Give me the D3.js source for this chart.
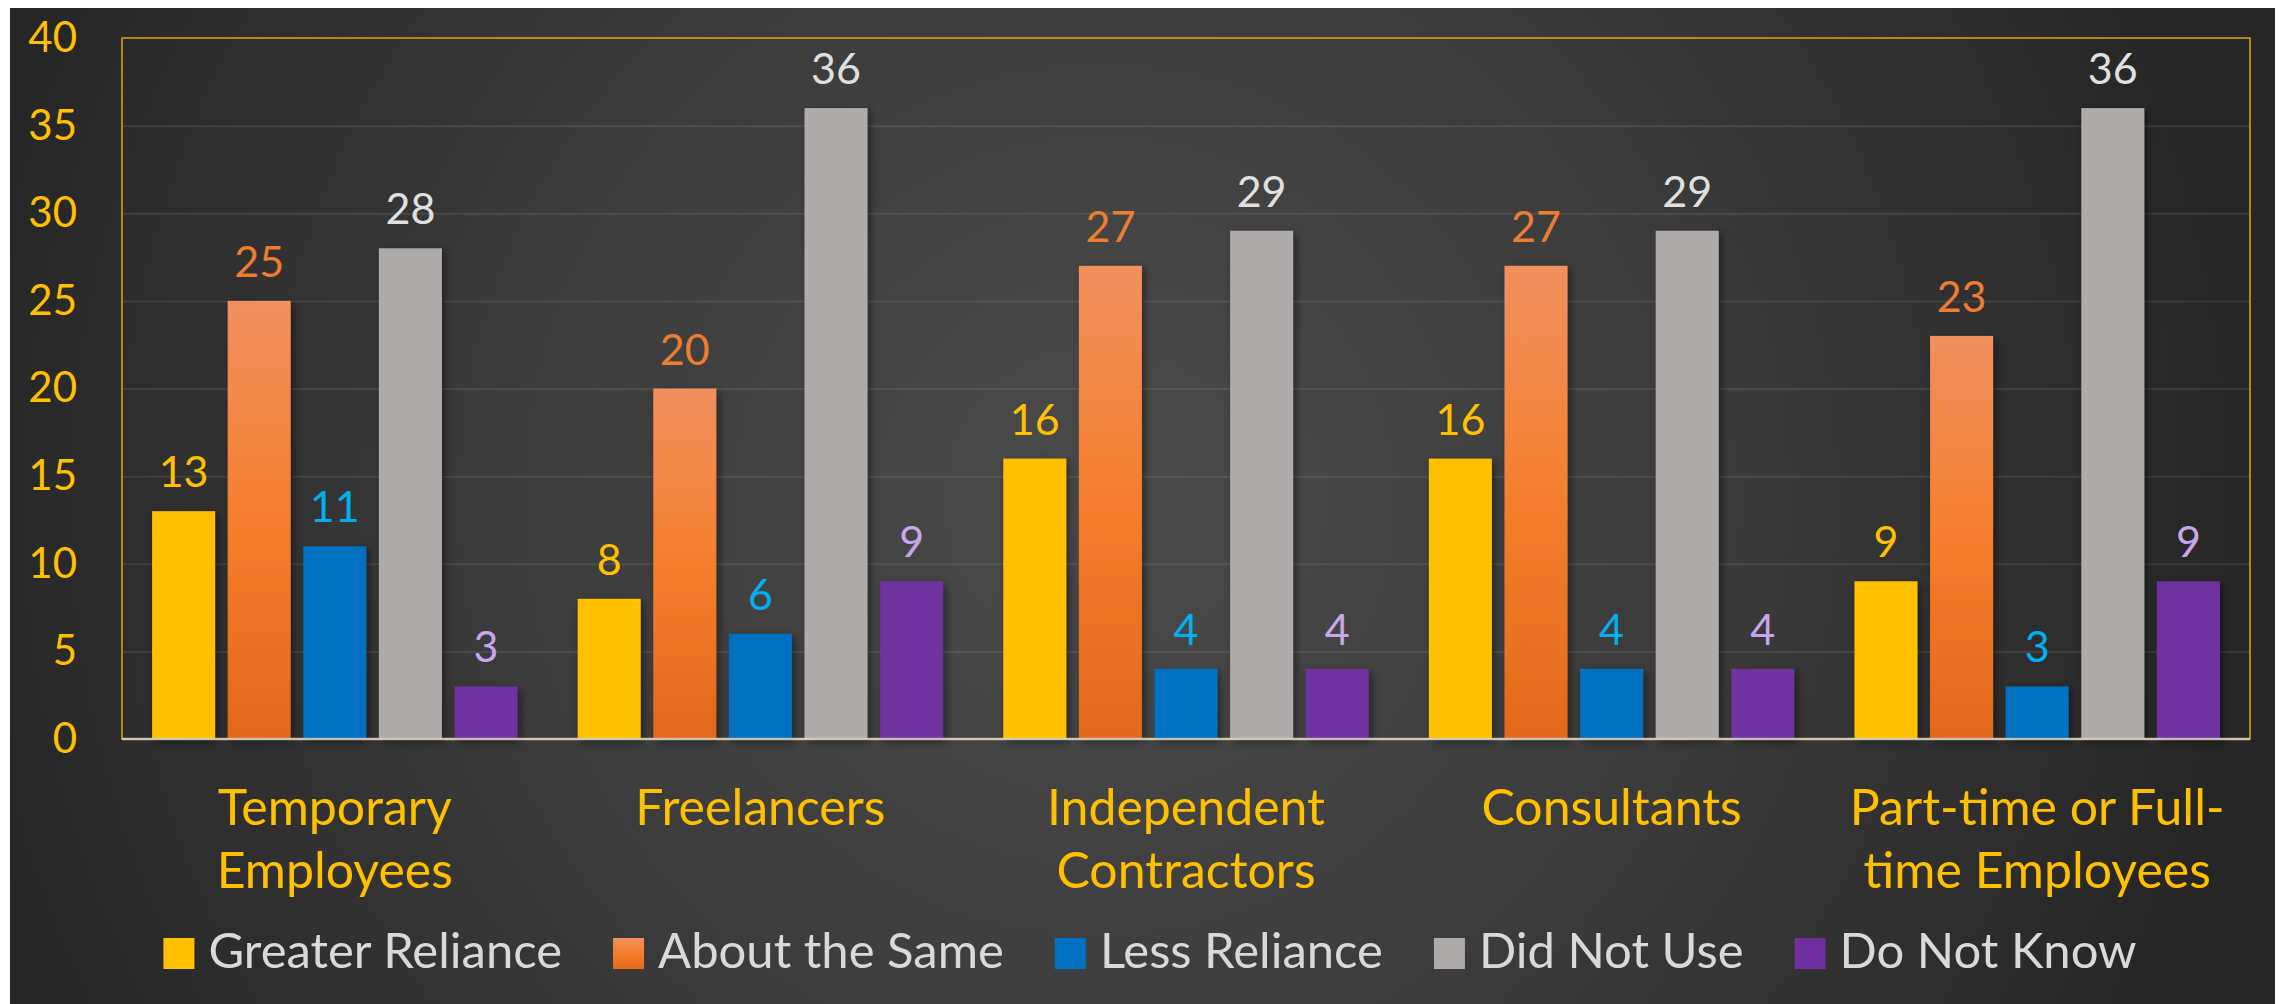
<!DOCTYPE html>
<html>
<head>
<meta charset="utf-8">
<style>
body { margin: 0; background: #fff; }
svg { display: block; }
text { font-family: Lato, "Open Sans", sans-serif; }
</style>
</head>
<body>
<svg id="chart" width="2280" height="1004"></svg>
<script src="https://d3js.org/d3.v7.min.js"></script>
<script>

// chart data
const categories = ["Temporary Employees", "Freelancers", "Independent Contractors", "Consultants", "Part-time or Full-time Employees"];
const categoryLines = [["Temporary", "Employees"], ["Freelancers"], ["Independent", "Contractors"], ["Consultants"], ["Part-time or Full-", "time Employees"]];
const series = ["Greater Reliance", "About the Same", "Less Reliance", "Did Not Use", "Do Not Know"];
const greaterReliance = [13, 8, 16, 16, 9];
const aboutTheSame = [25, 20, 27, 27, 23];
const lessReliance = [11, 6, 4, 4, 3];
const didNotUse = [28, 36, 29, 29, 36];
const doNotKnow = [3, 9, 4, 4, 9];
const yTicks = [0, 5, 10, 15, 20, 25, 30, 35, 40];

const seriesValues = [greaterReliance, aboutTheSame, lessReliance, didNotUse, doNotKnow];
const barFill = ["#FFC000", "url(#orangeGrad)", "#0070C0", "#AFABAB", "#7030A0"];
const labelColor = ["#FFC000", "#ED7D31", "#00B0F0", "#E0E0E0", "#C9A6EA"];

let svg = d3.select("#chart");
let defs = svg.append("defs");

// background glow
let bg = defs.append("radialGradient")
    .attr("id", "bgGrad")
    .attr("gradientUnits", "userSpaceOnUse")
    .attr("cx", 1100).attr("cy", 500).attr("r", 1150);
bg.append("stop").attr("offset", "0").attr("stop-color", "#4b4b4b");
bg.append("stop").attr("offset", "0.55").attr("stop-color", "#3a3a3a");
bg.append("stop").attr("offset", "1").attr("stop-color", "#262626");

let og = defs.append("linearGradient")
    .attr("id", "orangeGrad")
    .attr("x1", 0).attr("y1", 0).attr("x2", 0).attr("y2", 1);
og.append("stop").attr("offset", "0").attr("stop-color", "#F1905E");
og.append("stop").attr("offset", "0.5").attr("stop-color", "#F47F2D");
og.append("stop").attr("offset", "1").attr("stop-color", "#E2681A");

let shadow = defs.append("filter").attr("id", "shadow")
    .attr("x", "-20%").attr("y", "-20%").attr("width", "140%").attr("height", "140%");
shadow.append("feDropShadow")
    .attr("dx", 3).attr("dy", 3).attr("stdDeviation", 4)
    .attr("flood-color", "#000").attr("flood-opacity", 0.45);

svg.append("rect")
    .attr("x", 10).attr("y", 8)
    .attr("width", 2265).attr("height", 996)
    .attr("fill", "url(#bgGrad)");

let plot = {left: 122, right: 2250, top: 38, bottom: 739};

let x0 = d3.scaleBand()
    .domain(categories)
    .range([plot.left, plot.right])
    .padding(0);

let x1 = d3.scaleBand()
    .domain(series)
    .range([0, x0.bandwidth()])
    .paddingInner(0.1667)
    .paddingOuter(0.398);

let y = d3.scaleLinear()
    .domain([0, 40])
    .range([plot.bottom, plot.top]);

// gridlines
svg.append("g")
    .attr("transform", "translate(" + plot.left + ",0)")
    .call(d3.axisLeft(y).tickValues(yTicks.slice(1, -1)).tickSize(-(plot.right - plot.left)).tickFormat(""))
    .call(g => g.select(".domain").remove())
    .selectAll("line")
    .attr("stroke", "#ffffff")
    .attr("stroke-opacity", 0.09)
    .attr("stroke-width", 2);

// y axis labels
svg.append("g")
    .attr("transform", "translate(" + plot.left + ",0)")
    .call(d3.axisLeft(y).tickValues(yTicks).tickSize(0).tickPadding(45))
    .call(g => g.select(".domain").remove())
    .selectAll("text")
    .attr("fill", "#FFC000")
    .style("font-family", "Lato, sans-serif")
    .style("font-size", "42px");

// plot border
svg.append("rect")
    .attr("x", plot.left).attr("y", plot.top)
    .attr("width", plot.right - plot.left)
    .attr("height", plot.bottom - plot.top)
    .attr("fill", "none")
    .attr("stroke", "#FFC000")
    .attr("stroke-opacity", 0.85)
    .attr("stroke-width", 1.5);

// bars
let rows = categories.map((c, i) => ({cat: c, idx: i}));
let groups = svg.append("g").selectAll("g")
    .data(rows)
    .join("g")
    .attr("transform", d => "translate(" + x0(d.cat) + ",0)");

groups.selectAll("rect")
    .data(d => series.map((s, j) => ({s: s, j: j, v: seriesValues[j][d.idx]})))
    .join("rect")
    .attr("x", d => x1(d.s))
    .attr("y", d => y(d.v))
    .attr("width", x1.bandwidth())
    .attr("height", d => y(0) - y(d.v))
    .attr("fill", d => barFill[d.j])
    .attr("filter", "url(#shadow)");

groups.selectAll("text")
    .data(d => series.map((s, j) => ({s: s, j: j, v: seriesValues[j][d.idx]})))
    .join("text")
    .attr("x", d => x1(d.s) + x1.bandwidth() / 2)
    .attr("y", d => y(d.v) - 24)
    .attr("text-anchor", "middle")
    .attr("fill", d => labelColor[d.j])
    .style("font-size", "43px")
    .text(d => d.v);

// baseline
svg.append("line")
    .attr("x1", plot.left).attr("x2", plot.right)
    .attr("y1", y(0)).attr("y2", y(0))
    .attr("stroke", "#d9d6cc")
    .attr("stroke-opacity", 0.8)
    .attr("stroke-width", 2.5);

// category labels
let catText = svg.append("g").selectAll("text")
    .data(rows)
    .join("text")
    .attr("x", d => x0(d.cat) + x0.bandwidth() / 2)
    .attr("y", 825)
    .attr("text-anchor", "middle")
    .attr("fill", "#FFC000")
    .style("font-size", "50px");
catText.selectAll("tspan")
    .data(d => categoryLines[d.idx])
    .join("tspan")
    .attr("x", function() { return d3.select(this.parentNode).attr("x"); })
    .attr("dy", (d, i) => i === 0 ? 0 : 63)
    .text(d => d);

// legend
let legend = svg.append("g");
let lx = 0;
series.forEach((s, j) => {
    let item = legend.append("g").attr("transform", "translate(" + lx + ",0)");
    item.append("rect")
        .attr("x", 0).attr("y", 938)
        .attr("width", 31).attr("height", 31)
        .attr("fill", barFill[j]);
    let t = item.append("text")
        .attr("x", 45).attr("y", 968)
        .attr("fill", "#D9D9D9")
        .style("font-size", "49px")
        .text(s);
    lx += 45 + t.node().getComputedTextLength() + 51;
});
let legendWidth = lx - 51;
legend.attr("transform", "translate(" + (1150 - legendWidth / 2) + ",0)");

</script>
</body>
</html>
